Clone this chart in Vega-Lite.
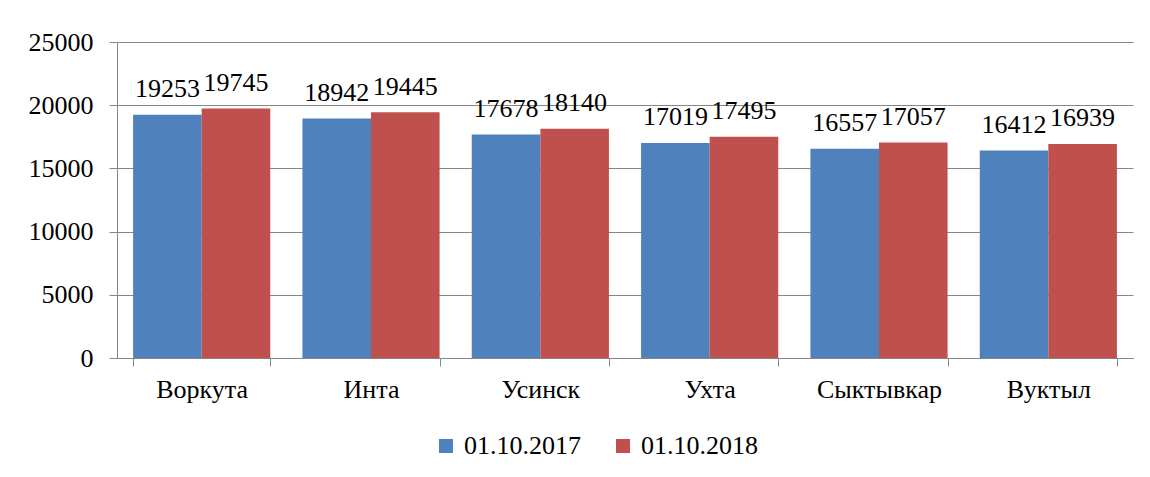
{
  "$schema": "https://vega.github.io/schema/vega-lite/v6.json",
  "width": 1016,
  "height": 316,
  "autosize": {"type": "none"},
  "padding": {"left": 117, "top": 42, "right": 17, "bottom": 119},
  "background": "white",
  "config": {
    "view": {"stroke": null},
    "font": "Times New Roman",
    "axis": {"labelFont": "Times New Roman", "labelFontSize": 26, "labelColor": "black"},
    "legend": {"labelFont": "Times New Roman", "labelFontSize": 26, "labelColor": "black"}
  },
  "data": {
    "values": [
      {"city": "Воркута", "date": "01.10.2017", "value": 19253},
      {"city": "Воркута", "date": "01.10.2018", "value": 19745},
      {"city": "Инта", "date": "01.10.2017", "value": 18942},
      {"city": "Инта", "date": "01.10.2018", "value": 19445},
      {"city": "Усинск", "date": "01.10.2017", "value": 17678},
      {"city": "Усинск", "date": "01.10.2018", "value": 18140},
      {"city": "Ухта", "date": "01.10.2017", "value": 17019},
      {"city": "Ухта", "date": "01.10.2018", "value": 17495},
      {"city": "Сыктывкар", "date": "01.10.2017", "value": 16557},
      {"city": "Сыктывкар", "date": "01.10.2018", "value": 17057},
      {"city": "Вуктыл", "date": "01.10.2017", "value": 16412},
      {"city": "Вуктыл", "date": "01.10.2018", "value": 16939}
    ]
  },
  "encoding": {
    "x": {
      "field": "city",
      "type": "nominal",
      "sort": null,
      "title": null,
      "scale": {"paddingInner": 0.19, "paddingOuter": 0.095},
      "axis": {
        "labelAngle": 0,
        "domainColor": "#868686",
        "tickColor": "#868686",
        "tickSize": 8,
        "tickBand": "extent",
        "labelBaseline": "top",
        "labelPadding": 10,
        "grid": false
      }
    },
    "xOffset": {"field": "date", "type": "nominal"},
    "y": {
      "field": "value",
      "type": "quantitative",
      "title": null,
      "scale": {"domain": [0, 25000], "nice": false},
      "axis": {
        "values": [0, 5000, 10000, 15000, 20000, 25000],
        "format": "d",
        "domainColor": "#868686",
        "tickColor": "#868686",
        "gridColor": "#868686",
        "tickSize": 8,
        "labelPadding": 16
      }
    }
  },
  "layer": [
    {
      "mark": {"type": "bar"},
      "encoding": {
        "color": {
          "field": "date",
          "type": "nominal",
          "title": null,
          "scale": {"range": ["#4F81BD", "#C0504D"]},
          "legend": {
            "orient": "none",
            "direction": "horizontal",
            "legendX": 316,
            "legendY": 391,
            "symbolType": "square",
            "symbolSize": 196,
            "symbolStrokeWidth": 0,
            "labelOffset": 5,
            "columnPadding": 29,
            "padding": 0
          }
        }
      }
    },
    {
      "mark": {"type": "text", "baseline": "alphabetic", "dy": -17.5, "fontSize": 26, "font": "Times New Roman", "color": "black"},
      "encoding": {"text": {"field": "value", "type": "quantitative", "format": "d"}}
    }
  ]
}
